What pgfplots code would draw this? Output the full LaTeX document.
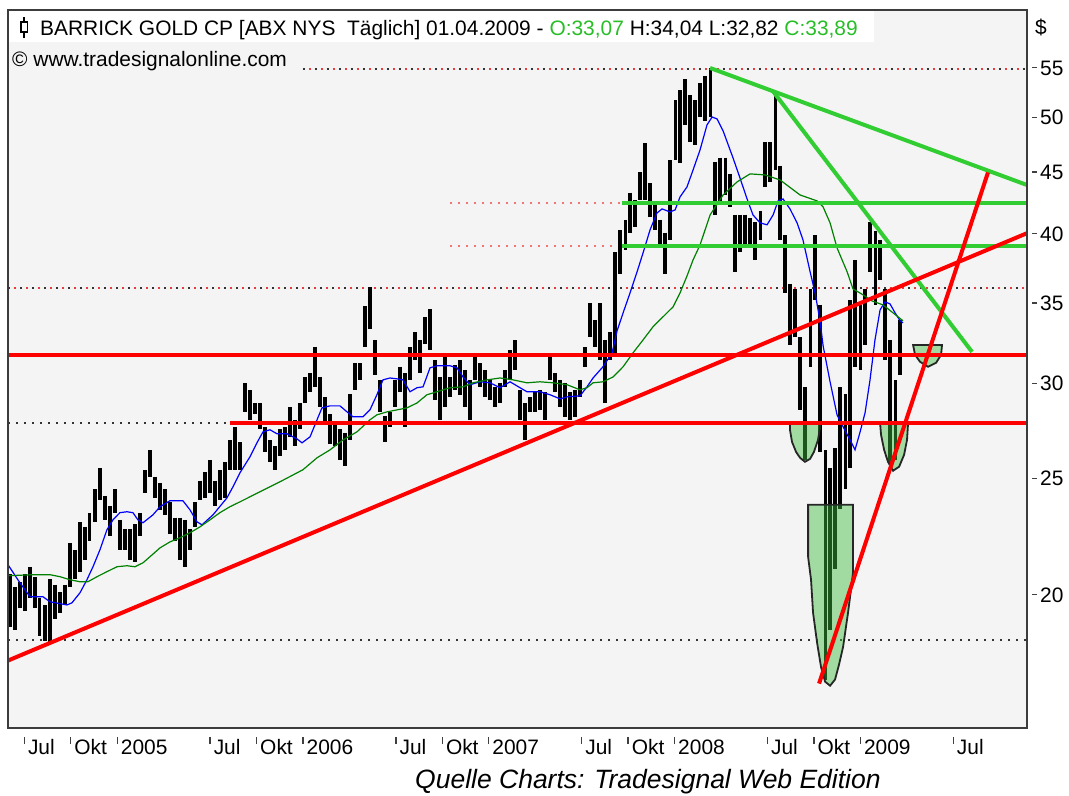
\documentclass[border=0pt]{standalone}
\usepackage{fontspec}
\setmainfont{Liberation Sans}
\usepackage{pgfplots}
\pgfplotsset{compat=1.18}
\definecolor{bggray}{RGB}{244,244,244}
\definecolor{framegray}{RGB}{60,60,60}
\definecolor{tred}{RGB}{255,0,0}
\definecolor{tgreen}{RGB}{50,205,50}
\definecolor{mablue}{RGB}{0,0,255}
\definecolor{magreen}{RGB}{0,128,0}
\definecolor{ellfill}{RGB}{60,190,60}
\definecolor{ttgreen}{RGB}{40,190,40}
\definecolor{dotred}{RGB}{230,60,60}
\newcommand\xt[1]{{\color{black!75}\rule[10bp]{1.3bp}{7bp}}\hspace{3bp}#1}
\newcommand\yt[1]{{\color{black!75}\rule[7bp]{5bp}{1.2bp}}\hspace{3bp}#1}
\begin{document}
\begin{tikzpicture}[x=1bp,y=1bp]
\useasboundingbox (0,0) rectangle (1069,796);
\fill[white] (0,0) rectangle (1069,796);
\begin{axis}[
  at={(8bp,68bp)}, anchor=south west,
  scale only axis, width=1019bp, height=718bp,
  xmin=4.96, xmax=70.78,
  ymode=log, ymin=15.49, ymax=61.48,
  axis background/.style={fill=bggray},
  axis line style={draw=framegray, line width=2bp},
  axis on top,
  tick style={draw=none},
  major tick length=0pt, minor tick length=0pt,
  xtick={6,9,12,18,21,24,30,33,36,42,45,48,54,57,60,66},
  xticklabels={\xt{Jul},\xt{Okt},\xt{2005},\xt{Jul},\xt{Okt},\xt{2006},\xt{Jul},\xt{Okt},\xt{2007},\xt{Jul},\xt{Okt},\xt{2008},\xt{Jul},\xt{Okt},\xt{2009},\xt{Jul}},
  xticklabel style={anchor=north west, inner sep=0pt, xshift=-0.6bp, yshift=-9bp, font=\fontsize{21}{21}\selectfont},
  ytick={20,25,30,35,40,45,50,55},
  yticklabels={\yt{20},\yt{25},\yt{30},\yt{35},\yt{40},\yt{45},\yt{50},\yt{55}},
  yticklabel pos=right,
  yticklabel style={anchor=west, inner sep=0pt, xshift=5bp, font=\fontsize{21}{21}\selectfont},
  unbounded coords=jump,
]
% dotted reference lines
\addplot[black!80, line width=1.8bp, dash pattern=on 1.8bp off 10.2bp, forget plot] coordinates {(24.0,54.9) (70.78,54.9)};
\addplot[dotred, line width=1.8bp, dash pattern=on 1.8bp off 10.2bp, dash phase=6bp, forget plot] coordinates {(24.0,54.9) (70.78,54.9)};
\addplot[black!80, line width=1.8bp, dash pattern=on 1.8bp off 10.2bp, forget plot] coordinates {(4.96,36.06) (70.78,36.06)};
\addplot[dotred, line width=1.8bp, dash pattern=on 1.8bp off 10.2bp, dash phase=6bp, forget plot] coordinates {(4.96,36.06) (70.78,36.06)};
\addplot[black!80, line width=1.8bp, dash pattern=on 1.8bp off 6.2bp, forget plot] coordinates {(4.96,27.83) (19.4,27.83)};
\addplot[black!80, line width=1.8bp, dash pattern=on 1.8bp off 6.2bp, forget plot] coordinates {(4.96,18.35) (70.78,18.35)};
\addplot[dotred!70, line width=1.8bp, dash pattern=on 1.8bp off 6.2bp, forget plot] coordinates {(33.51,42.44) (44.62,42.44)};
\addplot[dotred!70, line width=1.8bp, dash pattern=on 1.8bp off 6.2bp, forget plot] coordinates {(33.51,39.08) (44.62,39.08)};
% price bars (high, low)
\addplot[black, line width=3.2bp, mark=none] coordinates {
(5.09,20.8)(5.09,18.8)(5.09,nan)
(5.41,20.3)(5.41,18.7)(5.41,nan)
(5.73,20.5)(5.73,19.5)(5.73,nan)
(6.06,20.8)(6.06,19.4)(6.06,nan)
(6.38,21.1)(6.38,19.9)(6.38,nan)
(6.70,20.7)(6.70,19.5)(6.70,nan)
(7.02,19.9)(7.02,18.5)(7.02,nan)
(7.35,19.6)(7.35,18.3)(7.35,nan)
(7.67,20.6)(7.67,18.2)(7.67,nan)
(7.99,20.4)(7.99,19.1)(7.99,nan)
(8.32,20.1)(8.32,19.3)(8.32,nan)
(8.64,20.4)(8.64,19.6)(8.64,nan)
(8.96,22.1)(8.96,20.3)(8.96,nan)
(9.29,21.8)(9.29,20.6)(9.29,nan)
(9.61,23.0)(9.61,20.9)(9.61,nan)
(9.93,22.8)(9.93,21.4)(9.93,nan)
(10.25,23.4)(10.25,22.2)(10.25,nan)
(10.58,24.5)(10.58,23.0)(10.58,nan)
(10.90,25.5)(10.90,24.0)(10.90,nan)
(11.22,24.2)(11.22,23.1)(11.22,nan)
(11.55,23.7)(11.55,22.4)(11.55,nan)
(11.87,24.5)(11.87,23.4)(11.87,nan)
(12.19,23.1)(12.19,21.8)(12.19,nan)
(12.52,22.7)(12.52,21.8)(12.52,nan)
(12.84,22.7)(12.84,21.4)(12.84,nan)
(13.16,22.9)(13.16,21.3)(13.16,nan)
(13.48,23.4)(13.48,22.4)(13.48,nan)
(13.81,25.4)(13.81,24.3)(13.81,nan)
(14.13,26.4)(14.13,25.1)(14.13,nan)
(14.45,25.1)(14.45,24.1)(14.45,nan)
(14.78,24.8)(14.78,23.55)(14.78,nan)
(15.10,24.5)(15.10,23.3)(15.10,nan)
(15.42,23.9)(15.42,22.5)(15.42,nan)
(15.75,23.2)(15.75,22.2)(15.75,nan)
(16.07,23.2)(16.07,21.4)(16.07,nan)
(16.39,23.1)(16.39,21.1)(16.39,nan)
(16.71,22.7)(16.71,21.8)(16.71,nan)
(17.04,23.9)(17.04,22.8)(17.04,nan)
(17.36,24.9)(17.36,24.0)(17.36,nan)
(17.68,25.3)(17.68,24.1)(17.68,nan)
(18.01,25.9)(18.01,24.3)(18.01,nan)
(18.33,24.9)(18.33,23.7)(18.33,nan)
(18.65,25.4)(18.65,24.0)(18.65,nan)
(18.98,25.8)(18.98,24.1)(18.98,nan)
(19.30,26.9)(19.30,25.4)(19.30,nan)
(19.62,27.6)(19.62,25.4)(19.62,nan)
(19.94,26.8)(19.94,25.4)(19.94,nan)
(20.27,30.05)(20.27,28.4)(20.27,nan)
(20.59,29.65)(20.59,28.0)(20.59,nan)
(20.91,28.9)(20.91,28.3)(20.91,nan)
(21.24,28.9)(21.24,27.5)(21.24,nan)
(21.56,27.6)(21.56,26.3)(21.56,nan)
(21.88,26.9)(21.88,25.8)(21.88,nan)
(22.21,26.6)(22.21,25.4)(22.21,nan)
(22.53,27.5)(22.53,26.1)(22.53,nan)
(22.85,27.6)(22.85,26.4)(22.85,nan)
(23.17,28.7)(23.17,27.1)(23.17,nan)
(23.50,28.0)(23.50,26.6)(23.50,nan)
(23.82,28.9)(23.82,27.5)(23.82,nan)
(24.14,30.4)(24.14,28.9)(24.14,nan)
(24.47,30.6)(24.47,29.5)(24.47,nan)
(24.79,32.2)(24.79,29.8)(24.79,nan)
(25.11,30.4)(25.11,28.7)(25.11,nan)
(25.44,29.25)(25.44,27.85)(25.44,nan)
(25.76,28.3)(25.76,26.7)(25.76,nan)
(26.08,27.8)(26.08,26.6)(26.08,nan)
(26.40,27.5)(26.40,25.9)(26.40,nan)
(26.73,27.3)(26.73,25.6)(26.73,nan)
(27.05,29.4)(27.05,26.9)(27.05,nan)
(27.37,31.2)(27.37,29.65)(27.37,nan)
(27.70,31.2)(27.70,30.2)(27.70,nan)
(28.02,34.8)(28.02,32.2)(28.02,nan)
(28.34,36.1)(28.34,33.3)(28.34,nan)
(28.67,32.6)(28.67,30.5)(28.67,nan)
(28.99,30.2)(28.99,28.4)(28.99,nan)
(29.31,28.2)(29.31,26.8)(29.31,nan)
(29.63,28.4)(29.63,27.6)(29.63,nan)
(29.96,30.2)(29.96,28.7)(29.96,nan)
(30.28,31.0)(30.28,29.5)(30.28,nan)
(30.60,30.6)(30.60,27.6)(30.60,nan)
(30.93,32.2)(30.93,30.2)(30.93,nan)
(31.25,33.1)(31.25,31.4)(31.25,nan)
(31.57,32.6)(31.57,30.6)(31.57,nan)
(31.90,34.1)(31.90,32.4)(31.90,nan)
(32.22,34.6)(32.22,32.0)(32.22,nan)
(32.54,31.4)(32.54,29.1)(32.54,nan)
(32.86,30.4)(32.86,28.0)(32.86,nan)
(33.19,31.6)(33.19,28.7)(33.19,nan)
(33.51,30.4)(33.51,29.25)(33.51,nan)
(33.83,31.1)(33.83,29.65)(33.83,nan)
(34.16,31.4)(34.16,29.35)(34.16,nan)
(34.48,30.8)(34.48,28.7)(34.48,nan)
(34.80,30.2)(34.80,28.0)(34.80,nan)
(35.13,31.6)(35.13,30.2)(35.13,nan)
(35.45,31.2)(35.45,29.8)(35.45,nan)
(35.77,30.8)(35.77,29.25)(35.77,nan)
(36.09,30.2)(36.09,29.1)(36.09,nan)
(36.42,29.8)(36.42,28.7)(36.42,nan)
(36.74,30.05)(36.74,28.9)(36.74,nan)
(37.06,30.8)(37.06,29.8)(37.06,nan)
(37.39,32.0)(37.39,30.2)(37.39,nan)
(37.71,32.6)(37.71,30.8)(37.71,nan)
(38.03,29.65)(38.03,28.0)(38.03,nan)
(38.36,28.9)(38.36,26.9)(38.36,nan)
(38.68,29.25)(38.68,28.4)(38.68,nan)
(39.00,29.5)(39.00,28.4)(39.00,nan)
(39.32,29.65)(39.32,28.5)(39.32,nan)
(39.65,29.5)(39.65,28.0)(39.65,nan)
(39.97,31.6)(39.97,30.2)(39.97,nan)
(40.29,30.6)(40.29,29.5)(40.29,nan)
(40.62,30.2)(40.62,28.7)(40.62,nan)
(40.94,30.05)(40.94,28.15)(40.94,nan)
(41.26,29.5)(41.26,28.0)(41.26,nan)
(41.59,29.65)(41.59,28.15)(41.59,nan)
(41.91,30.2)(41.91,29.25)(41.91,nan)
(42.23,32.2)(42.23,31.0)(42.23,nan)
(42.55,35.0)(42.55,32.8)(42.55,nan)
(42.88,33.9)(42.88,32.2)(42.88,nan)
(43.20,35.0)(43.20,31.4)(43.20,nan)
(43.52,32.6)(43.52,28.9)(43.52,nan)
(43.85,33.1)(43.85,31.4)(43.85,nan)
(44.17,38.6)(44.17,31.8)(44.17,nan)
(44.49,40.3)(44.49,37.0)(44.49,nan)
(44.82,41.1)(44.82,38.8)(44.82,nan)
(45.14,43.3)(45.14,40.1)(45.14,nan)
(45.46,42.7)(45.46,40.5)(45.46,nan)
(45.78,45.0)(45.78,42.7)(45.78,nan)
(46.11,47.6)(46.11,42.7)(46.11,nan)
(46.43,44.1)(46.43,41.3)(46.43,nan)
(46.75,42.5)(46.75,40.3)(46.75,nan)
(47.08,41.1)(47.08,39.0)(47.08,nan)
(47.40,40.1)(47.40,37.0)(47.40,nan)
(47.72,46.1)(47.72,39.5)(47.72,nan)
(48.05,51.7)(48.05,46.1)(48.05,nan)
(48.37,52.7)(48.37,45.8)(48.37,nan)
(48.69,53.8)(48.69,49.3)(48.69,nan)
(49.01,52.2)(49.01,47.7)(49.01,nan)
(49.34,51.7)(49.34,47.4)(49.34,nan)
(49.66,53.4)(49.66,50.1)(49.66,nan)
(49.98,54.2)(49.98,49.7)(49.98,nan)
(50.31,55.0)(50.31,50.1)(50.31,nan)
(50.63,45.9)(50.63,41.5)(50.63,nan)
(50.95,46.3)(50.95,42.5)(50.95,nan)
(51.28,46.3)(51.28,43.1)(51.28,nan)
(51.60,44.9)(51.60,42.1)(51.60,nan)
(51.92,41.5)(51.92,37.2)(51.92,nan)
(52.24,41.5)(52.24,38.6)(52.24,nan)
(52.57,41.5)(52.57,39.2)(52.57,nan)
(52.89,41.2)(52.89,38.9)(52.89,nan)
(53.21,40.9)(53.21,38.05)(53.21,nan)
(53.54,41.8)(53.54,39.5)(53.54,nan)
(53.86,47.7)(53.86,43.8)(53.86,nan)
(54.18,47.7)(54.18,44.2)(54.18,nan)
(54.51,52.2)(54.51,45.2)(54.51,nan)
(54.83,45.6)(54.83,39.5)(54.83,nan)
(55.15,39.9)(55.15,35.7)(55.15,nan)
(55.47,36.3)(55.47,32.3)(55.47,nan)
(55.80,36.0)(55.80,32.8)(55.80,nan)
(56.12,32.8)(56.12,28.5)(56.12,nan)
(56.44,29.8)(56.44,25.9)(56.44,nan)
(56.77,36.0)(56.77,31.0)(56.77,nan)
(57.09,39.9)(57.09,35.2)(57.09,nan)
(57.41,34.9)(57.41,26.3)(57.41,nan)
(57.74,26.4)(57.74,17.0)(57.74,nan)
(58.06,25.5)(58.06,18.7)(58.06,nan)
(58.38,26.5)(58.38,21.0)(58.38,nan)
(58.70,29.8)(58.70,23.6)(58.70,nan)
(59.03,29.4)(59.03,24.5)(59.03,nan)
(59.35,35.2)(59.35,25.5)(59.35,nan)
(59.67,38.05)(59.67,31.0)(59.67,nan)
(60.00,34.9)(60.00,30.8)(60.00,nan)
(60.32,36.0)(60.32,32.3)(60.32,nan)
(60.64,40.9)(60.64,37.2)(60.64,nan)
(60.97,40.2)(60.97,34.9)(60.97,nan)
(61.29,39.5)(61.29,36.6)(61.29,nan)
(61.61,36.0)(61.61,31.4)(61.61,nan)
(61.93,32.6)(61.93,25.7)(61.93,nan)
(62.26,30.2)(62.26,25.9)(62.26,nan)
(62.58,33.9)(62.58,30.5)(62.58,nan)
};
% blue moving average
\addplot[mablue, line width=1.2bp] coordinates {
(4.96,21.19) (5.73,20.47) (6.38,19.93) (7.22,19.93) (7.67,19.74) (8.77,19.62) (9.09,19.70) (9.61,20.08) (10.06,20.59) (10.45,21.11) (10.90,21.81) (11.35,22.66) (11.74,23.10) (12.19,23.42) (12.64,23.46) (13.03,23.42) (13.35,23.10) (13.68,22.97) (14.32,23.32) (14.78,23.69) (15.42,23.96) (16.26,23.96) (16.71,23.55) (17.17,23.01) (17.49,22.88) (18.20,23.32) (19.10,24.09) (19.49,24.61) (19.94,25.28) (20.59,26.07) (21.04,26.78) (21.43,27.35) (21.88,27.46) (22.33,27.25) (22.98,27.25) (23.63,26.98) (23.95,26.78) (24.47,27.09) (24.92,27.99) (25.24,28.64) (25.76,28.75) (26.40,28.75) (26.86,28.42) (27.24,28.15) (27.89,28.15) (28.34,28.53) (28.79,29.37) (29.18,30.22) (29.63,30.33) (30.09,30.28) (30.47,30.22) (30.93,29.54) (31.38,29.77) (31.77,29.82) (32.22,30.93) (32.67,31.05) (33.51,31.05) (33.96,30.93) (34.35,30.39) (34.80,29.94) (35.45,30.11) (36.09,30.05) (36.74,29.77) (37.39,30.11) (38.03,29.77) (38.48,29.54) (39.32,29.54) (39.97,29.37) (40.62,29.14) (41.07,29.25) (41.91,29.31) (42.36,29.82) (42.75,30.33) (43.39,30.99) (43.98,31.83) (44.30,33.20) (44.69,34.37) (45.14,35.72) (45.59,37.18) (45.98,38.57) (46.43,40.30) (46.88,41.64) (47.21,41.96) (47.72,41.72) (48.05,41.88) (48.37,42.94) (48.82,43.78) (49.21,45.22) (49.66,46.99) (50.11,49.30) (50.44,50.06) (50.76,49.87) (51.15,48.74) (51.79,46.28) (52.24,44.53) (52.70,42.77) (53.08,41.48) (53.54,40.85) (53.99,40.70) (54.38,41.48) (54.70,42.61) (55.02,42.77) (55.47,41.96) (55.93,40.85) (56.31,39.54) (56.77,37.19) (57.09,35.72) (57.41,33.85) (57.61,32.26) (58.06,30.11) (58.51,28.26) (58.90,27.62) (59.35,26.93) (59.67,26.42) (60.00,27.35) (60.32,28.37) (60.64,30.22) (60.96,32.63) (61.29,34.57) (61.61,35.10) (61.93,34.97) (62.26,34.37) (62.58,33.85) (62.77,33.72)
};
% green moving average
\addplot[magreen, line width=1.2bp] coordinates {
(4.96,20.75) (6.57,20.79) (7.67,20.79) (8.32,20.71) (8.96,20.59) (9.61,20.51) (10.12,20.51) (10.71,20.71) (11.35,20.91) (12.0,21.11) (12.64,21.15) (13.16,21.11) (13.68,21.27) (14.13,21.52) (14.78,21.89) (15.42,22.14) (16.07,22.32) (16.71,22.53) (17.36,22.79) (18.01,23.10) (18.65,23.42) (19.30,23.69) (19.94,23.91) (21.24,24.38) (22.53,24.85) (24.01,25.43) (24.92,26.02) (25.76,26.42) (26.60,26.93) (27.50,27.35) (28.34,27.99) (28.79,28.26) (29.44,28.42) (30.09,28.53) (30.73,28.64) (31.38,28.91) (32.02,29.37) (32.67,29.54) (33.51,29.77) (34.35,29.82) (35.0,30.05) (35.90,30.22) (36.74,30.33) (37.58,30.22) (38.48,30.05) (39.32,30.11) (40.16,30.05) (41.07,29.94) (41.91,29.65) (42.36,29.77) (42.75,30.05) (43.39,30.11) (44.04,30.39) (44.69,30.99) (45.33,31.83) (45.98,32.63) (46.62,33.46) (47.27,34.11) (47.92,34.77) (48.37,35.72) (48.82,36.90) (49.21,38.05) (49.66,39.16) (50.31,41.48) (51.15,43.10) (52.05,44.19) (52.89,44.88) (53.86,44.79) (54.83,44.36) (56.12,43.10) (57.22,42.61) (57.61,42.12) (58.06,40.85) (58.51,38.94) (59.16,37.19) (59.54,35.99) (60.19,35.58) (60.77,35.17) (61.48,34.90) (62.13,34.37) (62.77,33.85)
};
% highlighted zones
\addplot[draw=black!85, line width=1.8bp, fill=ellfill, fill opacity=0.45] coordinates {(55.47,27.83) (55.47,27.46) (55.60,26.83) (55.86,26.32) (56.12,26.02) (56.44,25.82) (56.77,25.97) (57.02,26.32) (57.28,26.93) (57.41,27.57) (57.41,27.83)} -- cycle;
\addplot[draw=black!85, line width=1.8bp, fill=ellfill, fill opacity=0.45] coordinates {(56.64,23.78) (56.64,21.52) (56.83,20.59) (56.96,19.33) (57.22,18.25) (57.48,17.40) (57.74,16.93) (58.06,16.80) (58.38,17.00) (58.64,17.50) (58.90,18.10) (59.22,19.33) (59.41,20.20) (59.54,20.87) (59.54,23.78)} -- cycle;
\addplot[draw=black!85, line width=1.8bp, fill=ellfill, fill opacity=0.45] coordinates {(61.29,27.83) (61.35,27.20) (61.55,26.42) (61.80,25.82) (62.13,25.38) (62.52,25.58) (62.84,26.17) (63.03,26.93) (63.10,27.83)} -- cycle;
\addplot[draw=black!85, line width=1.8bp, fill=ellfill, fill opacity=0.45] coordinates {(63.42,32.32) (63.55,31.71) (63.87,31.29) (64.39,30.99) (64.91,31.23) (65.23,31.71) (65.29,32.32)} -- cycle;
% support / resistance and trend lines
\addplot[tgreen, line width=4bp] coordinates {(44.62,42.44) (70.78,42.44)};
\addplot[tgreen, line width=4bp] coordinates {(44.62,39.08) (70.78,39.08)};
\addplot[tgreen, line width=4bp] coordinates {(50.31,55.0) (70.78,43.93)};
\addplot[tgreen, line width=4bp] coordinates {(54.37,52.6) (67.23,31.89)};
\addplot[tred, line width=4bp] coordinates {(4.96,31.71) (70.78,31.71)};
\addplot[tred, line width=4bp] coordinates {(19.30,27.83) (70.78,27.83)};
\addplot[tred, line width=4bp] coordinates {(4.96,17.63) (70.78,40.05)};
\addplot[tred, line width=4bp] coordinates {(57.35,16.87) (68.26,45.0)};
\end{axis}
% header
\fill[white] (9.2,754) rectangle (874,784.8);
\draw[black, line width=1.6bp] (24,758) -- (24,779);
\filldraw[draw=black, fill=white, line width=1.4bp] (20.8,764) rectangle (27.2,774);
\node[anchor=base west, inner sep=0pt, font=\fontsize{21}{21}\selectfont] at (40,760)
  {BARRICK GOLD CP [ABX NYS\ \ Täglich] 01.04.2009 - \textcolor{ttgreen}{O:33,07} H:34,04 L:32,82 \textcolor{ttgreen}{C:33,89}};
\node[anchor=base west, inner sep=0pt, font=\fontsize{21}{21}\selectfont] at (12,729)
  {© www.tradesignalonline.com};
\node[anchor=base west, inner sep=0pt, font=\fontsize{21}{21}\selectfont] at (1035,761) {\$};
\node[anchor=base west, inner sep=0pt, font=\fontsize{26.6}{26.6}\selectfont\itshape] at (415,7)
  {Quelle Charts: Tradesignal Web Edition};
\end{tikzpicture}
\end{document}
